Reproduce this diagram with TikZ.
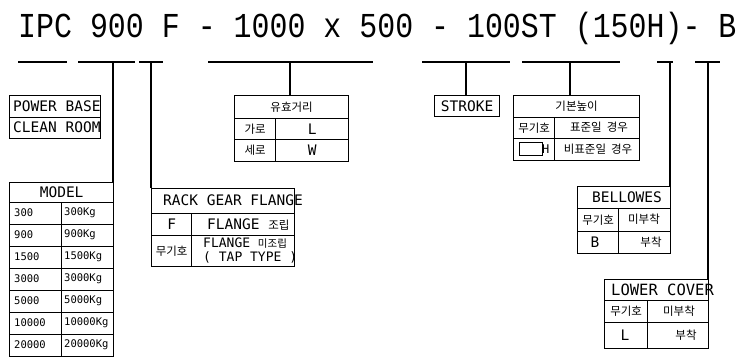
\documentclass[tikz,border=0pt]{standalone}
\usepackage{fontspec}
\newfontfamily\mono{DejaVu Sans Mono}
\newfontfamily\tmono{Liberation Mono}
\newfontfamily\kr{Noto Sans CJK KR}
\newcommand\K[1]{{\kr\fontsize{11.5}{12}\selectfont #1}}
\newcommand\cellbox[5]{\node[cell,minimum width=#4pt,minimum height=#5pt] (#1) at (#2,#3) {};}
\begin{document}
\begin{tikzpicture}[x=1pt,y=-1pt,
  ln/.style={line width=1.3pt},
  cell/.style={draw,line width=1.3pt,inner sep=0pt,anchor=north west},
  lat/.style={font=\mono\fontsize{14.5}{15}\selectfont,inner sep=0pt},
  num/.style={font=\mono\fontsize{10.5}{11}\selectfont,inner sep=0pt,anchor=west},
  kor/.style={font=\kr\fontsize{11.5}{12}\selectfont,inner sep=0pt},
]
\useasboundingbox (0,0) rectangle (741,359);
% title
\node[anchor=base west,inner sep=0pt,font=\tmono\fontsize{35}{35}\selectfont] (title) at (18,37)
  {\scalebox{0.855}[1]{IPC 900 F - 1000 x 500 - 100ST (150H)- B}};
% bars
\coordinate (b1a) at (18,62);  \coordinate (b1b) at (67,62);
\coordinate (b2a) at (78,62);  \coordinate (b2b) at (135,62); \coordinate (t2) at (113,62);
\coordinate (b3a) at (139,62); \coordinate (b3b) at (163,62); \coordinate (t3) at (151,62);
\coordinate (b4a) at (208,62); \coordinate (b4b) at (373,62); \coordinate (t4) at (290,62);
\coordinate (b5a) at (422,62); \coordinate (b5b) at (510,62); \coordinate (t5) at (466,62);
\coordinate (b6a) at (522,62); \coordinate (b6b) at (620,62); \coordinate (t6) at (570,62);
\coordinate (b7a) at (657,62); \coordinate (b7b) at (673,62); \coordinate (t7) at (670,62);
\coordinate (b8a) at (695,62); \coordinate (b8b) at (720,62); \coordinate (t8) at (708,62);
\foreach \i in {1,...,8} {\draw[ln] (b\i a) -- (b\i b);}
% POWER BASE
\cellbox{pb1}{9}{95}{91}{22}
\cellbox{pb2}{9}{117}{91}{21}
\node[lat,anchor=west] (pbt1) at (13,106) {POWER BASE};
\node[lat,anchor=west] (pbt2) at (13,127.5) {CLEAN ROOM};
% MODEL
\cellbox{mh}{9}{182}{104}{20}
\node[lat] (mht) at (mh.center) {MODEL};
\foreach \v/\w [count=\i from 0] in {300/300Kg,900/900Kg,1500/1500Kg,3000/3000Kg,5000/5000Kg,10000/10000Kg,20000/20000Kg} {
  \node[cell,minimum width=52pt,minimum height=22pt] (ml\i) at (9,{202+22*\i}) {};
  \node[cell,minimum width=52pt,minimum height=22pt] (mr\i) at (61,{202+22*\i}) {};
  \node[num] (mlt\i) at (14,{213+22*\i}) {\v};
  \node[num] (mrt\i) at (64,{213+22*\i}) {\w};
}
% RACK GEAR FLANGE
\cellbox{rh}{151}{188}{143}{25}
\cellbox{r1a}{151}{213}{40}{22}
\cellbox{r1b}{191}{213}{103}{22}
\cellbox{r2a}{151}{235}{40}{31}
\cellbox{r2b}{191}{235}{103}{31}
\node[lat,anchor=west] (rht) at (163,200.5) {RACK GEAR FLANGE};
\node[lat] (r1at) at (r1a.center) {F};
\node[lat,anchor=west] (r1bt) at (207,224) {FLANGE \K{조립}};
\node[kor] (r2at) at (r2a.center) {무기호};
\node[lat,font=\mono\fontsize{13}{13}\selectfont,anchor=west] (r2bt1) at (203,243) {FLANGE {\kr\fontsize{10.5}{11}\selectfont 미조립}};
\node[lat,font=\mono\fontsize{13}{13}\selectfont,anchor=west] (r2bt2) at (203,257) {( TAP TYPE )};
% 유효거리
\cellbox{eh}{234}{95}{114}{23}
\cellbox{e1a}{234}{118}{41}{21}
\cellbox{e1b}{275}{118}{73}{21}
\cellbox{e2a}{234}{139}{41}{22}
\cellbox{e2b}{275}{139}{73}{22}
\node[kor] (eht) at (eh.center) {유효거리};
\node[kor] (e1at) at (e1a.center) {가로};
\node[lat] (e1bt) at (e1b.center) {L};
\node[kor] (e2at) at (e2a.center) {세로};
\node[lat] (e2bt) at (e2b.center) {W};
% STROKE
\cellbox{st}{434}{95}{65}{21}
\node[lat] (stt) at (st.center) {STROKE};
% 기본높이
\cellbox{hh}{513}{95}{126}{22}
\cellbox{h1a}{513}{117}{41}{21}
\cellbox{h1b}{554}{117}{85}{21}
\cellbox{h2a}{513}{138}{41}{22}
\cellbox{h2b}{554}{138}{85}{22}
\node[kor] (hht) at (hh.center) {기본높이};
\node[kor] (h1at) at (h1a.center) {무기호};
\node[kor] (h1bt) at (599,127.5) {표준일\hspace{5pt}경우};
\node[cell,minimum width=23pt,minimum height=13pt] (hbox) at (519,142) {};
\node[lat,font=\mono\fontsize{12}{12}\selectfont,anchor=west] (hH) at (542,149) {H};
\node[kor] (h2bt) at (598,149) {비표준일\hspace{5pt}경우};
% BELLOWES
\cellbox{bh}{577}{186}{93}{22}
\cellbox{b1l}{577}{208}{41}{23}
\cellbox{b1r}{618}{208}{52}{23}
\cellbox{b2l}{577}{231}{41}{22}
\cellbox{b2r}{618}{231}{52}{22}
\node[lat] (bht) at (627,197) {BELLOWES};
\node[kor] (b1lt) at (b1l.center) {무기호};
\node[kor] (b1rt) at (644,219.5) {미부착};
\node[lat] (b2lt) at (595,242) {B};
\node[kor] (b2rt) at (651,242) {부착};
% LOWER COVER
\cellbox{lh}{604}{279}{104}{21}
\cellbox{l1a}{604}{300}{43}{22}
\cellbox{l1b}{647}{300}{61}{22}
\cellbox{l2a}{604}{322}{43}{26}
\cellbox{l2b}{647}{322}{61}{26}
\node[lat,font=\mono\fontsize{15.5}{16}\selectfont,anchor=west] (lht) at (611,289.5) {LOWER COVER};
\node[kor] (l1at) at (l1a.center) {무기호};
\node[kor] (l1bt) at (679,311) {미부착};
\node[lat] (l2at) at (625,335) {L};
\node[kor] (l2bt) at (686,335) {부착};
% ticks
\draw[ln] (t2) -- (t2 |- mh.north);
\draw[ln] (t3) -- (t3 |- rh.north);
\draw[ln] (t4) -- (t4 |- eh.north);
\draw[ln] (t5) -- (t5 |- st.north);
\draw[ln] (t6) -- (t6 |- hh.north);
\draw[ln] (t7) -- (t7 |- bh.north);
\draw[ln] (t8) -- (t8 |- lh.north);
\end{tikzpicture}
\end{document}
